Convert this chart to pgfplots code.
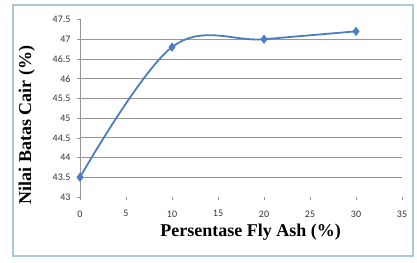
\documentclass[border=0pt]{standalone}
\usepackage{pgfplots}
\pgfplotsset{compat=1.18}
\usepackage{fontspec}
\setmainfont{Liberation Serif}
\newfontfamily\tickfont{Carlito}
\definecolor{lineblue}{RGB}{74,126,193}
\definecolor{gridgray}{RGB}{150,150,150}
\definecolor{framecol}{RGB}{170,200,215}
\begin{document}
\begin{tikzpicture}
\begin{axis}[
  at={(80pt,65pt)}, anchor=south west,
  scale only axis, width=322pt, height=177.5pt,
  xmin=0, xmax=35, ymin=43, ymax=47.5,
  xtick={0,5,...,35},
  ytick={43.5,44,...,47},
  extra y ticks={43,47.5},
  extra y tick style={grid=none},
  ymajorgrids, grid style={gridgray, line width=0.8pt},
  axis lines*=left,
  x axis line style={draw=none},
  y axis line style={gridgray, line width=0.8pt},
  tick style={gridgray, line width=0.6pt},
  major tick length=3pt,
  xtick align=outside, ytick align=outside,
  x tick label style={yshift=-7pt},
  y tick label style={xshift=-3pt},
  tick label style={font=\tickfont\fontsize{10}{11}\selectfont, text=black!80},
  /pgf/number format/assume math mode=true,
  yticklabel style={/pgf/number format/.cd, fixed, precision=1},
  xlabel={\textbf{Persentase Fly Ash (\%)}},
  ylabel={\textbf{Nilai Batas Cair (\%)}},
  label style={font=\fontsize{18}{20}\selectfont},
  xlabel style={at={(axis description cs:0.53,-0.2)}, anchor=center},
  ylabel style={at={(axis description cs:-0.165,0.405)}, anchor=center},
  clip=false,
]
\addplot[lineblue, line width=1.8pt, smooth, tension=0.6,
  mark=diamond*, mark size=3.2pt, mark options={fill=lineblue}]
  coordinates {(0,43.5) (10,46.8) (20,47.0) (30,47.2)};
\end{axis}
\draw[framecol, line width=1.2pt] (13pt,6pt) rectangle (413pt,257pt);
\useasboundingbox (0pt,0pt) rectangle (417pt,262pt);
\end{tikzpicture}
\end{document}
